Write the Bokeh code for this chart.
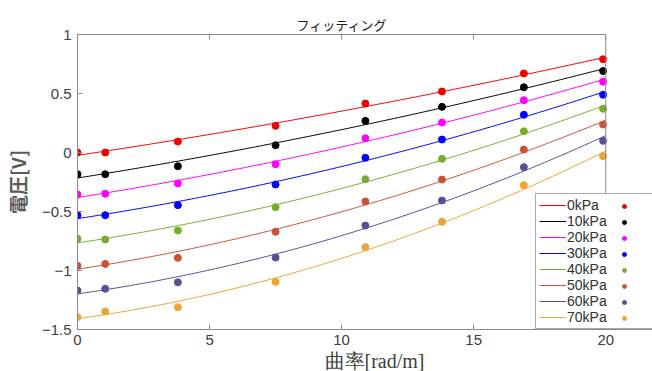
import numpy as np
from bokeh.plotting import figure
from bokeh.models import (Legend, LegendItem, Title, LinearAxis, FixedTicker,
                          Range1d, Span)
from bokeh.embed import file_html
from bokeh.resources import INLINE

# ---- data ----
curvature = [0, 1.05, 3.8, 7.5, 10.9, 13.8, 16.9, 19.9]
pressures = ["0kPa", "10kPa", "20kPa", "30kPa", "40kPa", "50kPa", "60kPa", "70kPa"]
v_0kPa = [0.00, 0.00, 0.093, 0.226, 0.415, 0.517, 0.670, 0.790]
v_10kPa = [-0.184, -0.184, -0.116, 0.062, 0.268, 0.387, 0.553, 0.690]
v_20kPa = [-0.356, -0.350, -0.262, -0.099, 0.121, 0.254, 0.443, 0.600]
v_30kPa = [-0.531, -0.531, -0.446, -0.271, -0.045, 0.110, 0.320, 0.490]
v_40kPa = [-0.731, -0.737, -0.661, -0.463, -0.226, -0.054, 0.180, 0.370]
v_50kPa = [-0.960, -0.944, -0.893, -0.672, -0.415, -0.229, 0.025, 0.237]
v_60kPa = [-1.170, -1.155, -1.100, -0.890, -0.619, -0.407, -0.124, 0.099]
v_70kPa = [-1.395, -1.347, -1.311, -1.096, -0.802, -0.587, -0.277, -0.031]
series = [v_0kPa, v_10kPa, v_20kPa, v_30kPa, v_40kPa, v_50kPa, v_60kPa, v_70kPa]
colors = ["#f00000", "#000000", "#ff00ff", "#0000ff", "#77ac30", "#cc5236",
          "#5c4d98", "#e9a535"]
x_ticks = [0, 5, 10, 15, 20]
y_ticks = [-1.5, -1, -0.5, 0, 0.5, 1]
y_tick_labels = ["\u22121.5", "\u22121", "\u22120.5", "0", "0.5", "1"]
x_min, x_max = 0, 20
y_min, y_max = -1.5, 1

TICK_FONT = "Liberation Sans"
TICK_COLOR = "#404040"
AX_COLOR = "#8a8a8a"

# frame: left 74px .. window edge; x = 20 sits at 605px, legend spills past it
FRAME_L, AXIS_R, WIN_W = 74, 605, 652
x_view_max = x_max * (WIN_W - FRAME_L) / (AXIS_R - FRAME_L)

p = figure(width=652, height=371, output_backend="svg", toolbar_location=None,
           x_range=Range1d(x_min, x_view_max), y_range=Range1d(y_min, y_max),
           min_border_left=FRAME_L, min_border_right=0, min_border_top=34,
           min_border_bottom=42, title="フィッティング")
p.grid.visible = False
p.outline_line_color = None
p.background_fill_color = "white"
p.border_fill_color = "white"

p.title.align = "left"
p.title.offset = 219
p.title.standoff = 2
p.title.text_font = "Noto Sans CJK JP"
p.title.text_font_size = "13px"
p.title.text_font_style = "normal"
p.title.text_color = "#202020"

def style_axis(ax, show_labels=True):
    ax.axis_line_color = AX_COLOR
    ax.major_tick_line_color = AX_COLOR
    ax.major_tick_in = 5
    ax.major_tick_out = 0
    ax.minor_tick_line_color = None
    ax.major_label_text_font = TICK_FONT
    ax.major_label_text_font_size = "15px"
    ax.major_label_text_color = TICK_COLOR if show_labels else None
    if not show_labels:
        ax.major_label_standoff = 0

xa = p.xaxis[0]
xa.ticker = FixedTicker(ticks=x_ticks)
style_axis(xa)
xa.major_label_standoff = 5

ya = p.yaxis[0]
ya.ticker = FixedTicker(ticks=y_ticks)
ya.major_label_overrides = {t: l for t, l in zip(y_ticks, y_tick_labels)}
style_axis(ya)
ya.major_label_standoff = 6
ya.axis_label = "電圧[V]"
ya.axis_label_text_font = "Noto Sans CJK JP"
ya.axis_label_text_font_size = "19px"
ya.axis_label_text_font_style = "bold"
ya.axis_label_text_color = "#5a5a5a"
ya.axis_label_standoff = 8

top_ax = LinearAxis(ticker=FixedTicker(ticks=x_ticks), bounds=(x_min, x_max))
style_axis(top_ax, show_labels=False)
p.add_layout(top_ax, "above")

# right border of the axes box at x = 20
p.add_layout(Span(location=x_max, dimension="height", line_color=AX_COLOR,
                  line_width=1))

xlabel = Title(text="曲率[rad/m]", align="left", offset=247, standoff=0,
               text_font="Liberation Serif", text_font_size="20px",
               text_font_style="normal", text_color="#404040")
p.add_layout(xlabel, "below")

# fitted quadratic curves (least squares on the plotted points) + measured points
xf = np.linspace(x_min, x_max, 200)
line_items, dot_items = [], []
for name, ys, c in zip(pressures, series, colors):
    coef = np.polyfit(curvature, ys, 2)
    lr = p.line(xf, np.polyval(coef, xf), line_color=c, line_width=1)
    sr = p.scatter(curvature, ys, size=7, fill_color=c, line_color=c)
    line_items.append(LegendItem(label=name, renderers=[lr]))
    dot_items.append(LegendItem(label=" ", renderers=[sr]))

leg1 = Legend(items=line_items, location=(458, 0), orientation="vertical",
              glyph_width=27, glyph_height=16, label_height=16, label_width=100,
              label_standoff=1, spacing=0, padding=3, margin=0,
              border_line_color="#555555", border_line_width=1,
              background_fill_color="white", background_fill_alpha=1,
              label_text_font=TICK_FONT, label_text_font_size="14px",
              label_text_color="#303030")
leg2 = Legend(items=dot_items, location=(539, 0), orientation="vertical",
              glyph_width=10, glyph_height=16, label_height=16, label_width=0,
              label_standoff=0, spacing=0, padding=3, margin=0,
              border_line_alpha=0, background_fill_alpha=0,
              label_text_font_size="14px", label_text_color=None)
p.add_layout(leg1, "center")
p.add_layout(leg2, "center")

open("out.html", "w").write(file_html(p, INLINE))
